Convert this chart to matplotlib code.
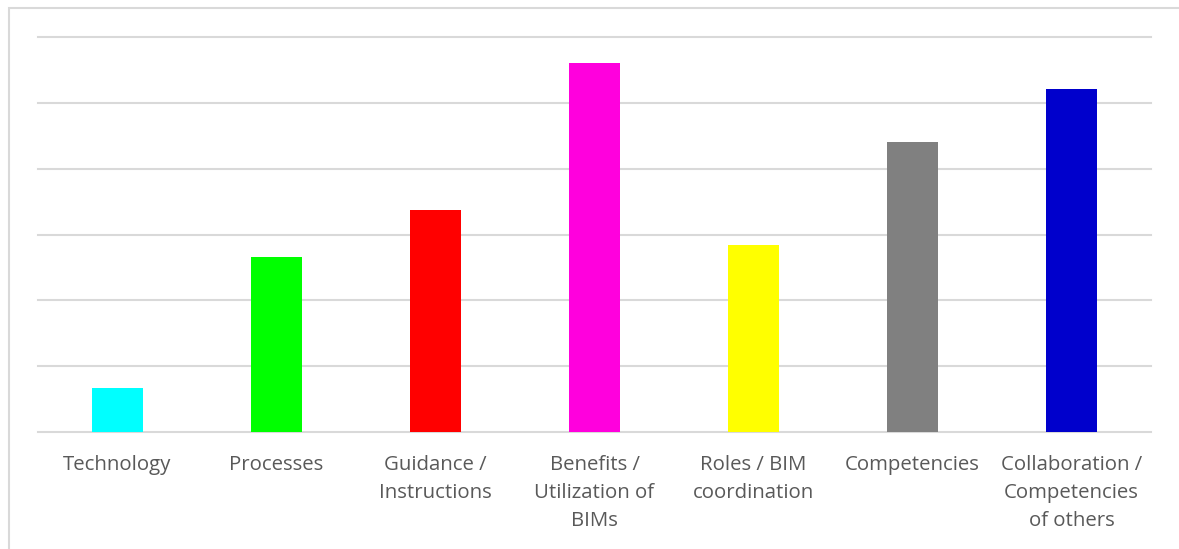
import matplotlib
matplotlib.use("Agg")
import matplotlib.pyplot as plt
from matplotlib.patches import Rectangle

categories = ["Technology", "Processes", "Guidance /\nInstructions", "Benefits /\nUtilization of\nBIMs",
              "Roles / BIM\ncoordination", "Competencies", "Collaboration /\nCompetencies\nof others"]
values = [0.67, 2.66, 3.37, 5.61, 2.84, 4.41, 5.21]
colors = ["#00FFFF", "#00FF00", "#FF0000", "#FF00DD", "#FFFF00", "#808080", "#0000CC"]

W, H = 1179, 549
fig = plt.figure(figsize=(W/100, H/100), dpi=100)
fig.patch.set_facecolor("white")
fig.patches.append(Rectangle((9/W, -0.1), 1.2, (H-8)/H + 0.1, transform=fig.transFigure,
                             fill=False, edgecolor="#d9d9d9", linewidth=1.5))

ax = fig.add_axes([38/W, 1-432/H, (1151-38)/W, (432-37)/H])
x = range(len(categories))
ax.bar(x, values, width=0.315, color=colors, zorder=3)
ax.set_xlim(-0.5, len(categories)-0.5)
ax.set_ylim(0, 6)
ax.set_yticks(range(0, 7))
ax.yaxis.grid(True, color="#d9d9d9", linewidth=1.5, clip_on=False)
ax.set_yticklabels([])
ax.tick_params(axis="y", length=0)
ax.tick_params(axis="x", length=0, pad=16.5)
for s in ["top", "right", "left", "bottom"]:
    ax.spines[s].set_visible(False)
ax.set_xticks(list(x))
ax.set_xticklabels(categories, fontsize=14.7, color="#595959", family="Open Sans",
                   linespacing=1.54, va="top")
ax.set_facecolor("none")
fig.savefig("out.png", dpi=100)
